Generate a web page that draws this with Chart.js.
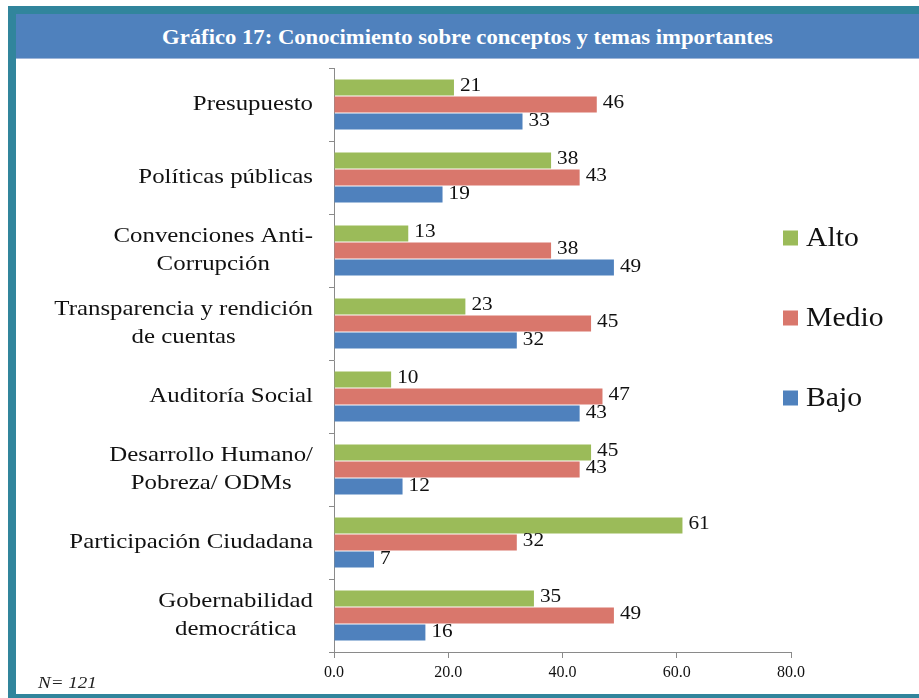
<!DOCTYPE html>
<html>
<head>
<meta charset="utf-8">
<script src="https://cdn.jsdelivr.net/npm/chart.js@4.4.0/dist/chart.umd.min.js"></script>
<style>
  html, body { margin: 0; padding: 0; background: #fff; }
  body { width: 919px; height: 698px; position: relative; overflow: hidden; }
  #marco {
    position: absolute; left: 8px; top: 6px; width: 911px; height: 692px;
    background: #31859c;
  }
  #titulo {
    position: absolute; left: 16px; top: 14px; width: 903px; height: 44px;
    background: #4f81bd; border-bottom: 1px solid #9db5d8;
    color: #fff; font-family: "Liberation Serif", serif; font-weight: bold;
    font-size: 22px; line-height: 46px; text-align: center;
  }
  #titulo span { display: inline-block; transform: scaleX(1.03); }
  #fondo {
    position: absolute; left: 16px; top: 59px; width: 903px; height: 635px;
    background: #fff;
  }
  #caja { position: absolute; left: 16px; top: 59px; width: 903px; height: 635px; }
  #nota {
    position: absolute; left: 38px; top: 673px; transform-origin: left center;
    transform: scaleX(1.12);
    font-family: "Liberation Serif", serif; font-style: italic; font-size: 17px; color: #222;
  }
</style>
</head>
<body>
<div id="marco"></div>
<div id="titulo"><span>Gráfico 17: Conocimiento sobre conceptos y temas importantes</span></div>
<div id="fondo"></div>
<div id="caja"><canvas id="graficoTemas" width="903" height="635"></canvas></div>
<div id="nota">N= 121</div>
<script>
const categorias = [
  ['Presupuesto'],
  ['Políticas públicas'],
  ['Convenciones Anti-', 'Corrupción'],
  ['Transparencia y rendición', 'de cuentas'],
  ['Auditoría Social'],
  ['Desarrollo Humano/', 'Pobreza/ ODMs'],
  ['Participación Ciudadana'],
  ['Gobernabilidad', 'democrática']
];
const alto  = [21, 38, 13, 23, 10, 45, 61, 35];
const medio = [46, 43, 38, 45, 47, 43, 32, 49];
const bajo  = [33, 19, 49, 32, 43, 12, 7, 16];
const ticksX = [0, 20, 40, 60, 80];

const serif = '"Liberation Serif", "Times New Roman", serif';

// texto algo ensanchado, como en la imagen original
function texto(c, t, x, y, sx) {
  c.save();
  c.translate(x, y);
  c.scale(sx, 1);
  c.fillText(t, 0, 0);
  c.restore();
}

// etiquetas del eje Y: bloque alineado a la derecha, lineas centradas
const etiquetasY = {
  id: 'etiquetasY',
  afterDraw(chart) {
    const c = chart.ctx;
    const y = chart.scales.y;
    const derecha = y.right - 21;
    const sx = 1.13;
    c.save();
    c.font = '22px ' + serif;
    c.fillStyle = '#111';
    c.textAlign = 'center';
    c.textBaseline = 'middle';
    categorias.forEach((lineas, i) => {
      const ancho = Math.max(...lineas.map(l => c.measureText(l).width)) * sx;
      const cx = derecha - ancho / 2;
      const cy = y.getPixelForTick(i);
      lineas.forEach((l, j) => {
        texto(c, l, cx, cy + (j - (lineas.length - 1) / 2) * 28, sx);
      });
    });
    c.restore();
  }
};

// valores al final de cada barra
const valores = {
  id: 'valores',
  afterDatasetsDraw(chart) {
    const c = chart.ctx;
    c.save();
    c.font = '19px ' + serif;
    c.fillStyle = '#111';
    c.textAlign = 'left';
    c.textBaseline = 'middle';
    chart.data.datasets.forEach((ds, i) => {
      chart.getDatasetMeta(i).data.forEach((barra, j) => {
        texto(c, String(ds.data[j]), barra.x + 6, barra.y - 1, 1.12);
      });
    });
    c.restore();
  }
};

// leyenda a la derecha
const leyenda = {
  id: 'leyenda',
  afterDraw(chart) {
    const c = chart.ctx;
    const area = chart.chartArea;
    const x = area.right - 8;
    const centro = 259;
    const paso = 80;
    c.save();
    c.font = '27px ' + serif;
    c.textBaseline = 'middle';
    c.textAlign = 'left';
    const n = chart.data.datasets.length;
    chart.data.datasets.forEach((ds, i) => {
      const cy = centro + (i - (n - 1) / 2) * paso;
      c.fillStyle = ds.backgroundColor;
      c.fillRect(x, cy - 7.5, 15, 15);
      c.fillStyle = '#111';
      texto(c, ds.label, x + 23, cy + 1, 1.1);
    });
    c.restore();
  }
};

const ctx = document.getElementById('graficoTemas').getContext('2d');

new Chart(ctx, {
  type: 'bar',
  data: {
    labels: categorias.map(l => l.join(' ')),
    datasets: [
      { label: 'Alto',  data: alto,  backgroundColor: '#9bbb59' },
      { label: 'Medio', data: medio, backgroundColor: '#d9776c' },
      { label: 'Bajo',  data: bajo,  backgroundColor: '#4f81bd' }
    ]
  },
  options: {
    indexAxis: 'y',
    responsive: false,
    animation: false,
    categoryPercentage: 0.7,
    barPercentage: 0.95,
    layout: { padding: { top: 9, right: 128, bottom: 0, left: 0 } },
    plugins: {
      legend: { display: false },
      tooltip: { enabled: false }
    },
    scales: {
      x: {
        min: 0,
        max: 80,
        afterBuildTicks: s => { s.ticks = ticksX.map(v => ({ value: v })); },
        afterFit: s => { s.height = 42; },
        border: { color: '#8a8a8a' },
        grid: { drawOnChartArea: false, tickLength: 6, color: '#8a8a8a' },
        ticks: {
          padding: 5,
          color: '#111',
          font: { family: serif, size: 16 },
          callback: v => Number(v).toFixed(1)
        }
      },
      y: {
        afterFit: s => { s.width = 318; },
        border: { color: '#8a8a8a' },
        grid: { drawOnChartArea: false, tickLength: 5, color: '#8a8a8a' },
        ticks: { display: false }
      }
    }
  },
  plugins: [etiquetasY, valores, leyenda]
});
</script>
</body>
</html>
